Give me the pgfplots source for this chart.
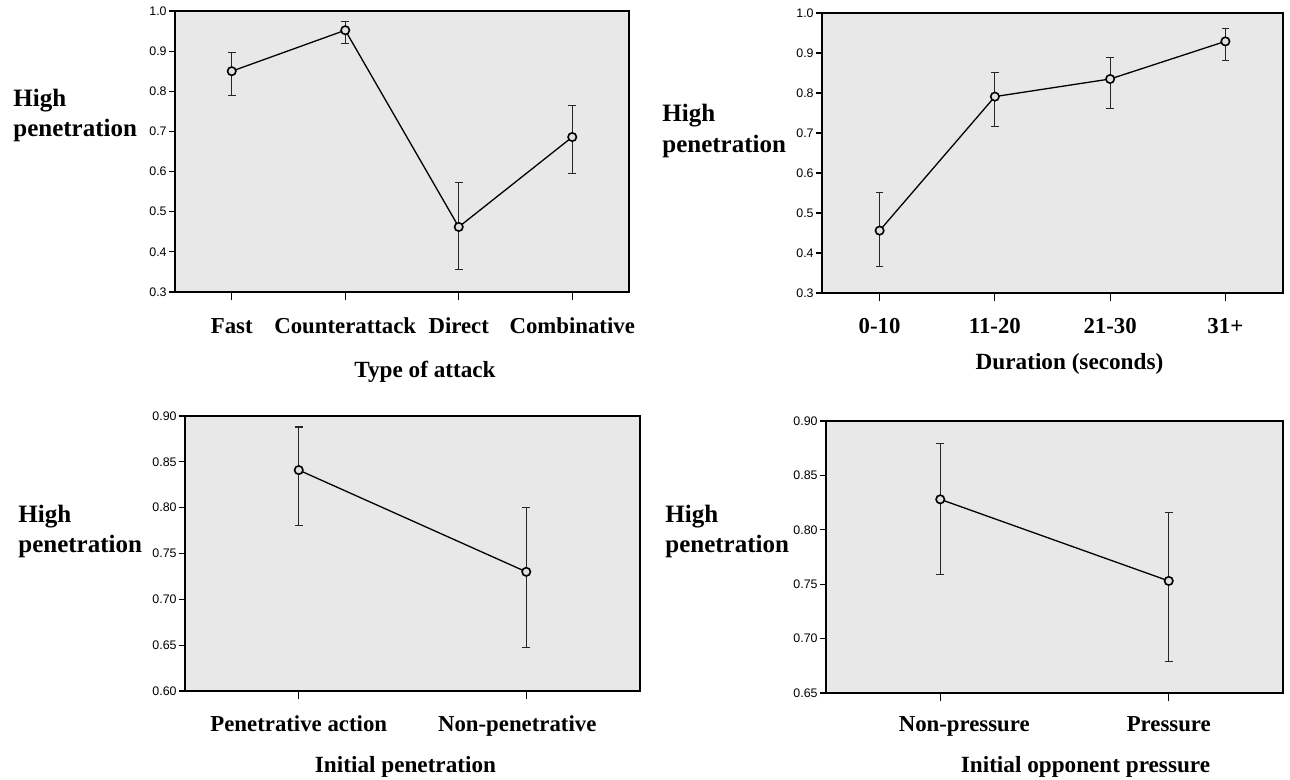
\documentclass[border=0pt]{standalone}
\usepackage{fontspec}
\setmainfont{Liberation Serif}
\newfontfamily\sansf{Liberation Sans}
\usepackage{pgfplots}
\pgfplotsset{compat=1.18}
\usepackage{pgfplotstable}

\pgfplotstableread{
x y ep em
0 0.850 0.047 0.060
1 0.952 0.021 0.033
2 0.462 0.111 0.105
3 0.686 0.079 0.091
}\attack
\pgfplotstableread{
x y ep em
0 0.456 0.095 0.090
1 0.791 0.061 0.074
2 0.835 0.054 0.074
3 0.929 0.032 0.047
}\duration
\pgfplotstableread{
x y ep em
0 0.841 0.047 0.060
1 0.730 0.070 0.083
}\penetr
\pgfplotstableread{
x y ep em
0 0.828 0.051 0.069
1 0.753 0.063 0.074
}\pressure

\pgfplotsset{
 spss/.style={
  scale only axis, anchor=south west,
  axis background/.style={fill=black!9},
  axis line style={line width=0.75pt},
  tick align=outside, xtick pos=bottom, ytick pos=left,
  major tick length=3pt,
  tick style={black, line width=0.55pt},
  xtick style={/pgfplots/major tick length=4.2pt},
  yticklabel style={font=\sansf\fontsize{6.2}{7}\selectfont, inner sep=1pt},
  xticklabel style={font=\bfseries\fontsize{11.4}{13}\selectfont, anchor=base},
  xlabel style={font=\bfseries\fontsize{11.6}{13}\selectfont, at={(axis description cs:0.5,0)}, anchor=base},
  /pgf/number format/assume math mode=true,
  /pgf/number format/fixed, /pgf/number format/fixed zerofill,
 },
 spssplot/.style={black, line width=0.65pt, mark=*, mark size=2.1pt,
  mark options={fill=black!12, draw=black, line width=0.8pt},
  error bars/.cd, y dir=both, y explicit,
  error bar style={line width=0.55pt, black!85},
  error mark options={rotate=90, mark size=1.9pt, line width=0.55pt, black!85}},
}
\newcommand{\hp}[3]{%
 \node[anchor=base west, inner sep=0pt, font=\bfseries\fontsize{12.5}{15}\selectfont] at (#1pt,#2pt) {High};
 \node[anchor=base west, inner sep=0pt, font=\bfseries\fontsize{12.5}{15}\selectfont] at (#1pt,#3pt) {penetration};}

\begin{document}
\begin{tikzpicture}
\path[use as bounding box] (0,0) rectangle (645pt,390pt);

\begin{axis}[spss, at={(87.5pt,244pt)}, width=227pt, height=140.5pt,
  xmin=-0.5, xmax=3.5, ymin=0.3, ymax=1.0,
  ytick={0.3,0.4,0.5,0.6,0.7,0.8,0.9,1.0}, /pgf/number format/precision=1,
  xtick={0,1,2,3}, xticklabels={Fast,Counterattack,Direct,Combinative},
  xticklabel style={yshift=-18pt},
  xlabel={Type of attack}, xlabel style={yshift=-43pt, xshift=11.5pt}]
\addplot[spssplot] table[x=x,y=y,y error plus=ep,y error minus=em]{\attack};
\end{axis}

\begin{axis}[spss, at={(411pt,243.5pt)}, width=230.5pt, height=140pt,
  xmin=-0.5, xmax=3.5, ymin=0.3, ymax=1.0,
  ytick={0.3,0.4,0.5,0.6,0.7,0.8,0.9,1.0}, /pgf/number format/precision=1,
  xtick={0,1,2,3}, xticklabels={0-10,11-20,21-30,31+},
  xticklabel style={yshift=-17.5pt},
  xlabel={Duration (seconds)}, xlabel style={yshift=-38.5pt, xshift=8.5pt}]
\addplot[spssplot] table[x=x,y=y,y error plus=ep,y error minus=em]{\duration};
\end{axis}

\begin{axis}[spss, at={(92.5pt,44.5pt)}, width=227.5pt, height=137.5pt,
  xmin=-0.5, xmax=1.5, ymin=0.6, ymax=0.9,
  ytick={0.60,0.65,0.70,0.75,0.80,0.85,0.90}, /pgf/number format/precision=2,
  xtick={0,1}, xticklabels={Penetrative action,Non-penetrative\hspace*{9pt}},
  xticklabel style={yshift=-17.5pt},
  xlabel={Initial penetration}, xlabel style={yshift=-41pt, xshift=-3.5pt}]
\addplot[spssplot] table[x=x,y=y,y error plus=ep,y error minus=em]{\penetr};
\end{axis}

\begin{axis}[spss, at={(413pt,43.5pt)}, width=228.5pt, height=136pt,
  xmin=-0.5, xmax=1.5, ymin=0.65, ymax=0.9,
  ytick={0.65,0.70,0.75,0.80,0.85,0.90}, /pgf/number format/precision=2,
  xtick={0,1}, xticklabels={\hspace*{24pt}Non-pressure,Pressure},
  xticklabel style={yshift=-16.5pt},
  xlabel={Initial opponent pressure}, xlabel style={yshift=-40pt, xshift=15.5pt}]
\addplot[spssplot] table[x=x,y=y,y error plus=ep,y error minus=em]{\pressure};
\end{axis}

\hp{6.5}{336.5}{321.5}
\hp{331}{329}{313.5}
\hp{9}{128.5}{113.5}
\hp{332.5}{128.5}{113.5}
\end{tikzpicture}
\end{document}
